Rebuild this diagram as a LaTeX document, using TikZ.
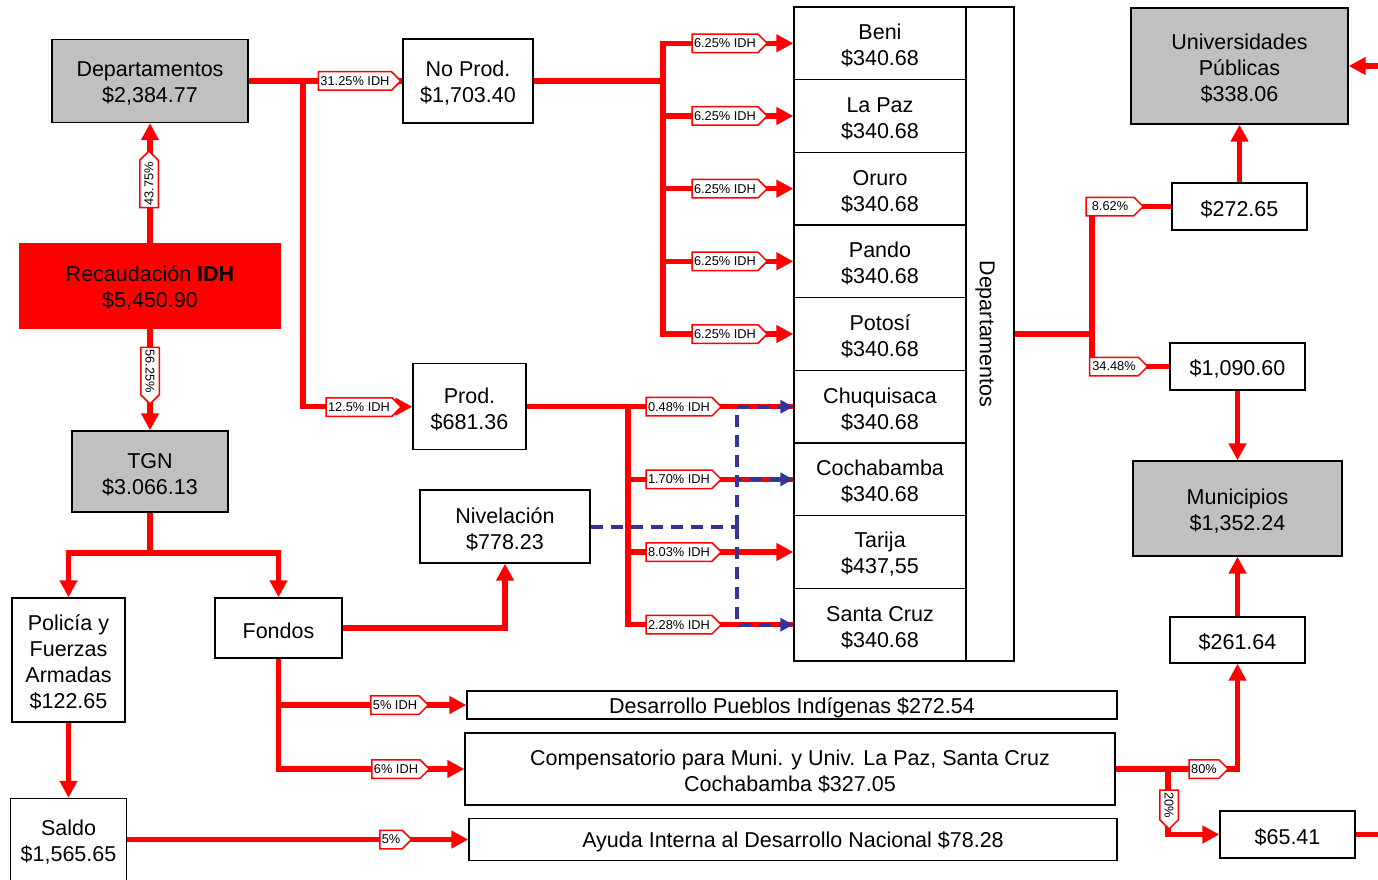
\documentclass[tikz,border=0pt]{standalone}
\usepackage{fontspec}
\setmainfont{Liberation Sans}
\usetikzlibrary{arrows.meta,shapes.symbols}
\definecolor{boxgray}{HTML}{C0C0C0}
\definecolor{flowred}{HTML}{FF0000}
\definecolor{navblue}{HTML}{333399}
% invisible strut that lowers the first line of a box label a little
\newcommand\topgap{\rule{0pt}{20.5pt}}

\begin{document}
\begin{tikzpicture}[x=1pt,y=-1pt,
  box/.style={draw=black,line width=1.4pt,fill=white,align=center,
    font=\fontsize{21.5}{26}\selectfont,inner sep=0pt,
    execute at begin node={\topgap}},
  graybox/.style={box,fill=boxgray},
  deptbox/.style={box,minimum width=172pt,minimum height=72.67pt},
  flow/.style={draw=flowred,line width=5.5pt},
  flowarrow/.style={flow,-{Triangle[length=17pt,width=17pt]}},
  levelling/.style={draw=navblue,line width=4pt,dash pattern=on 12pt off 8pt},
  levelarrow/.style={levelling,-{Triangle[length=13pt,width=13pt]}},
  tag/.style={shape=signal,signal to=east,signal from=nowhere,draw=flowred,
    line width=1.5pt,fill=white,font=\fontsize{12.8}{14}\selectfont,
    inner xsep=2pt,inner ysep=1.5pt,minimum height=18.5pt},
]
\useasboundingbox (0,0) rectangle (1378,880);

% ---- left column ----
\node[graybox,minimum width=196pt,minimum height=83pt] (dep) at (150,81) {\topgap Departamentos\\\$2,384.77};
\node[box,fill=flowred,draw=flowred,minimum width=260pt,minimum height=84pt] (rec) at (150,286) {\topgap Recaudación \textbf{IDH}\\\$5,450.90};
\node[graybox,minimum width=156pt,minimum height=81pt] (tgn) at (150,471.5) {\topgap TGN\\\$3.066.13};
\node[box,minimum width=113pt,minimum height=124pt] (pol) at (68.5,660) {\topgap Policía y\\Fuerzas\\Armadas\\\$122.65};
\node[box,minimum width=127pt,minimum height=60pt] (fondos) at (278.5,628) {Fondos};
\node[box,minimum width=116pt,minimum height=82pt] (saldo) at (68.5,839.5) {\topgap Saldo\\\$1,565.65};

% ---- middle ----
\node[box,minimum width=130pt,minimum height=84pt] (noprod) at (468,81) {\topgap No Prod.\\\$1,703.40};
\node[box,minimum width=113pt,minimum height=86pt] (prod) at (469.5,406.7) {\topgap Prod.\\\$681.36};
\node[box,minimum width=170pt,minimum height=73pt] (niv) at (505,526.5) {\topgap Nivelación\\\$778.23};
\node[box,minimum width=650pt,minimum height=28pt] (desarrollo) at (792,705) {Desarrollo Pueblos Indígenas \$272.54};
\node[box,minimum width=650pt,minimum height=72pt] (comp) at (790,769) {\topgap Compensatorio para Muni. y Univ. La Paz, Santa Cruz\\Cochabamba \$327.05};
\node[box,minimum width=648pt,minimum height=42pt] (ayuda) at (793,839.5) {Ayuda Interna al Desarrollo Nacional \$78.28};

% ---- departments ----
\node[box,minimum width=48pt,minimum height=654pt] (col) at (990,334) {};
\node[rotate=-90,font=\fontsize{21.5}{26}\selectfont] (coltext) at (985,334) {Departamentos};
\node[deptbox] (beni)   at (880,43.3)  {\topgap Beni\\\$340.68};
\node[deptbox] (lapaz)  at (880,116)   {\topgap La Paz\\\$340.68};
\node[deptbox] (oruro)  at (880,188.7) {\topgap Oruro\\\$340.68};
\node[deptbox] (pando)  at (880,261.3) {\topgap Pando\\\$340.68};
\node[deptbox] (potosi) at (880,334)   {\topgap Potosí\\\$340.68};
\node[deptbox] (chuq)   at (880,406.7) {\topgap Chuquisaca\\\$340.68};
\node[deptbox] (cocha)  at (880,479.3) {\topgap Cochabamba\\\$340.68};
\node[deptbox] (tarija) at (880,552)   {\topgap Tarija\\\$437,55};
\node[deptbox] (scruz)  at (880,624.7) {\topgap Santa Cruz\\\$340.68};

% ---- right column ----
\node[graybox,minimum width=217pt,minimum height=116pt] (uni) at (1239.5,66) {\topgap Universidades\\Públicas\\\$338.06};
\node[box,minimum width=135pt,minimum height=47pt] (r272) at (1239.5,206.5) {\$272.65};
\node[box,minimum width=135pt,minimum height=47pt] (r1090) at (1237.5,366.5) {\$1,090.60};
\node[graybox,minimum width=209pt,minimum height=95pt] (muni) at (1237.5,508.5) {\topgap Municipios\\\$1,352.24};
\node[box,minimum width=135pt,minimum height=46pt] (r261) at (1237.5,640) {\$261.64};
\node[box,minimum width=135pt,minimum height=47pt] (r65) at (1287.5,834.5) {\$65.41};

% ---- junctions and free ends ----
\coordinate (dj) at (303,81);
\coordinate (nj) at (663,81);
\coordinate (pj) at (628,406.7);
\coordinate (bj) at (737,526.5);
\coordinate (tj) at (150,553);
\coordinate (rj) at (1092,334);
\coordinate (cj) at (1168,769);
\coordinate (inuni) at (1378,66);
\coordinate (exit65) at (1378,834.5);

% ---- red flows ----
\draw[flowarrow] (rec.north) -- (dep.south);
\draw[flowarrow] (rec.south) -- (tgn.north);
\draw[flow] (dep.east) -- (noprod.west);
\draw[flowarrow] (dj) |- (prod.west);
\draw[flow] (tgn.south) -- (tj);
\draw[flowarrow] (tj) -| (pol.north);
\draw[flowarrow] (tj) -| (fondos.north);
\draw[flowarrow] (pol.south) -- (saldo.north);
\draw[flowarrow] (saldo.east) -- (ayuda.west);
\draw[flowarrow] (fondos.east) -| (niv.south);
\draw[flowarrow] (fondos.south) |- (desarrollo.west);
\draw[flowarrow] (fondos.south) |- (comp.west);

\draw[flow] (noprod.east) -- (nj);
\foreach \d in {beni,lapaz,oruro,pando,potosi}
  \draw[flowarrow] (nj) |- (\d.west);

\draw[flow] (prod.east) -- (chuq.west);
\draw[flow] (pj) |- (cocha.west);
\draw[flowarrow] (pj) |- (tarija.west);
\draw[flow] (pj) |- (scruz.west);

\draw[flow] (col.east) -- (rj);
\draw[flow] (rj) |- (r272.west);
\draw[flow] (rj) |- (r1090.west);
\draw[flowarrow] (r272.north) -- (uni.south);
\draw[flowarrow] (r1090.south) -- (muni.north);
\draw[flowarrow] (r261.north) -- (muni.south);
\draw[flowarrow] (comp.east) -| (r261.south);
\draw[flowarrow] (cj) |- (r65.west);
\draw[flow] (r65.east) -- (exit65);
\draw[flowarrow] (inuni) -- (uni.east);

% ---- levelling (dashed blue) ----
\draw[levelling] (niv.east) -- (bj);
\draw[levelarrow] (bj) |- (chuq.west);
\draw[levelarrow] (bj) |- (cocha.west);
\draw[levelarrow] (bj) |- (scruz.west);

% ---- percentage tags ----
\node[tag] (t3125) at (355,81) {31.25\% IDH};
\node[tag] (t125) at (359,407) {12.5\% IDH};
\node[tag,rotate=90] (t4375) at (149,184) {43.75\%};
\node[tag,rotate=-90] (t5625) at (150,371) {56.25\%};
\foreach \y/\n in {43.3/a,116/b,188.7/c,261.3/d,334/e}
  \node[tag] (tn\n) at (725,\y) {6.25\% IDH};
\node[tag] (t048) at (679,406.7) {0.48\% IDH};
\node[tag] (t170) at (679,479.3) {1.70\% IDH};
\node[tag] (t803) at (679,552) {8.03\% IDH};
\node[tag] (t228) at (679,624.7) {2.28\% IDH};
\node[tag] (t5a) at (395,705) {5\% IDH};
\node[tag] (t6) at (396,769) {6\% IDH};
\node[tag,minimum width=27pt] (t5b) at (391,839.5) {5\%};
\node[tag,minimum width=57pt] (t862) at (1110,206.5) {8.62\%};
\node[tag,minimum width=58pt] (t3448) at (1114,366.5) {34.48\%};
\node[tag] (t80) at (1204,769) {80\%};
\node[tag,rotate=-90] (t20) at (1169,805) {20\%};
\end{tikzpicture}
\end{document}
